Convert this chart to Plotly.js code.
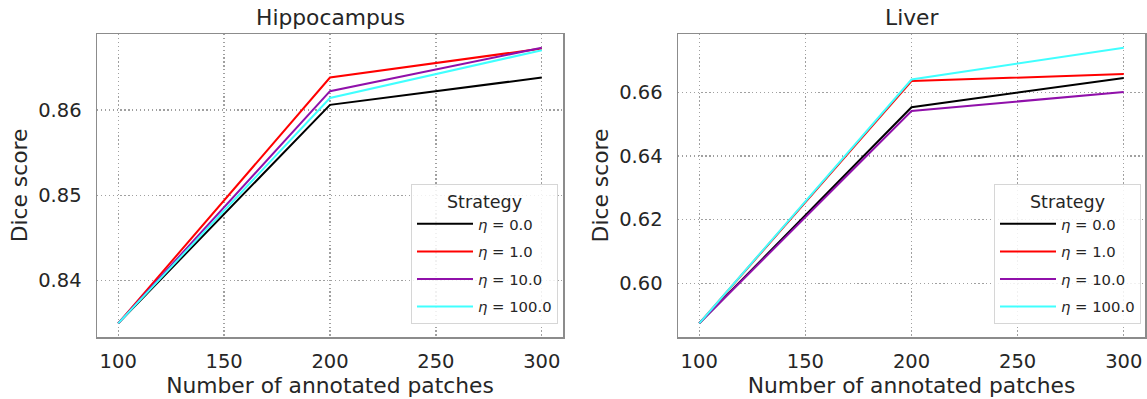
<!DOCTYPE html>
<html>
<head>
<meta charset="utf-8">
<script src="https://cdn.plot.ly/plotly-3.0.1.min.js"></script>
<style>html,body{margin:0;padding:0;background:#fff;} #chart{width:1147px;height:399px;}</style>
</head>
<body>
<div id="chart"></div>
<script>
const patches = [100, 200, 300];
const strategyNames = ['<i>η</i> = 0.0', '<i>η</i> = 1.0', '<i>η</i> = 10.0', '<i>η</i> = 100.0'];
const strategyColors = ['#000000', '#ff0000', '#9010aa', '#40ffff'];

// Hippocampus Dice scores per strategy
const hippoEta0   = [0.8350, 0.8606, 0.8638];
const hippoEta1   = [0.8350, 0.8638, 0.8672];
const hippoEta10  = [0.8350, 0.8622, 0.8673];
const hippoEta100 = [0.8350, 0.8614, 0.8670];

// Liver Dice scores per strategy
const liverEta0   = [0.5874, 0.6553, 0.6645];
const liverEta1   = [0.5874, 0.6635, 0.6657];
const liverEta10  = [0.5874, 0.6541, 0.6601];
const liverEta100 = [0.5874, 0.6640, 0.6740];

const yTicksHippo = [0.84, 0.85, 0.86];
const yTicksLiver = [0.60, 0.62, 0.64, 0.66];
const xTicks = [100, 150, 200, 250, 300];

const hippo = [hippoEta0, hippoEta1, hippoEta10, hippoEta100];
const liver = [liverEta0, liverEta1, liverEta10, liverEta100];

const FONT = 'DejaVu Sans, sans-serif';
const TXT = '#262626';

const traces = [];
hippo.forEach((ys, i) => traces.push({
  x: patches, y: ys, type: 'scatter', mode: 'lines', name: strategyNames[i],
  line: {color: strategyColors[i], width: 2}, xaxis: 'x', yaxis: 'y',
  legend: 'legend', legendgroup: 'h' + i
}));
liver.forEach((ys, i) => traces.push({
  x: patches, y: ys, type: 'scatter', mode: 'lines', name: strategyNames[i],
  line: {color: strategyColors[i], width: 2}, xaxis: 'x2', yaxis: 'y2',
  legend: 'legend2', legendgroup: 'l' + i
}));

const W = 1147, H = 399;
const mL = 97, mR = 2, mT = 34, mB = 62;
const pw = W - mL - mR;

function xax(domain, anchor) {
  return {
    domain: domain, anchor: anchor, range: [90, 310],
    tickvals: xTicks, ticks: '', showline: true, mirror: true,
    linecolor: '#8c8c8c', linewidth: 1.5,
    showgrid: true, gridcolor: '#a0a0a0', griddash: '1.3px,2.6px', gridwidth: 1.2,
    zeroline: false, tickfont: {family: FONT, size: 19.5, color: TXT},
    ticklabelstandoff: 6,
    title: {text: 'Number of annotated patches', font: {family: FONT, size: 21.8, color: TXT}, standoff: 2}
  };
}
function yax(range, ticks, anchor) {
  return {
    domain: [0, 1], anchor: anchor, range: range,
    tickvals: ticks, tickformat: '.2f', ticks: '', showline: true, mirror: true,
    linecolor: '#8c8c8c', linewidth: 1.5,
    showgrid: true, gridcolor: '#a0a0a0', griddash: '1.3px,2.6px', gridwidth: 1.2,
    zeroline: false, tickfont: {family: FONT, size: 19.5, color: TXT},
    ticklabelstandoff: 10,
    title: {text: 'Dice score', font: {family: FONT, size: 21.8, color: TXT}, standoff: 4}
  };
}

function legendCfg(xpx) {
  return {
    x: (xpx - mL) / pw, xanchor: 'left',
    y: 1 - (184 - mT) / (H - mT - mB), yanchor: 'top',
    bgcolor: 'rgba(255,255,255,0.85)', bordercolor: '#d6d6d6', borderwidth: 1,
    font: {family: FONT, size: 14.8, color: TXT},
    title: {text: 'Strategy', side: 'top center', font: {family: FONT, size: 17.5, color: TXT}},
    itemwidth: 56, tracegroupgap: 5.3, itemclick: false
  };
}

const layout = {
  width: W, height: H,
  margin: {l: mL, r: mR, t: mT, b: mB},
  paper_bgcolor: '#ffffff', plot_bgcolor: '#ffffff',
  showlegend: true,
  xaxis: xax([0, (563 - mL) / pw], 'y'),
  yaxis: yax([0.8334, 0.8689], yTicksHippo, 'x'),
  xaxis2: xax([(678 - mL) / pw, 1], 'y2'),
  yaxis2: yax([0.5831, 0.6783], yTicksLiver, 'x2'),
  legend: legendCfg(411),
  legend2: legendCfg(994),
  annotations: [
    {text: 'Hippocampus', xref: 'x domain', yref: 'y domain', x: 0.5, y: 1, yanchor: 'bottom', yshift: 2,
     showarrow: false, font: {family: FONT, size: 21.8, color: TXT}},
    {text: 'Liver', xref: 'x2 domain', yref: 'y2 domain', x: 0.5, y: 1, yanchor: 'bottom', yshift: 2,
     showarrow: false, font: {family: FONT, size: 21.8, color: TXT}}
  ]
};

Plotly.newPlot('chart', traces, layout, {staticPlot: true, displayModeBar: false});
</script>
</body>
</html>
